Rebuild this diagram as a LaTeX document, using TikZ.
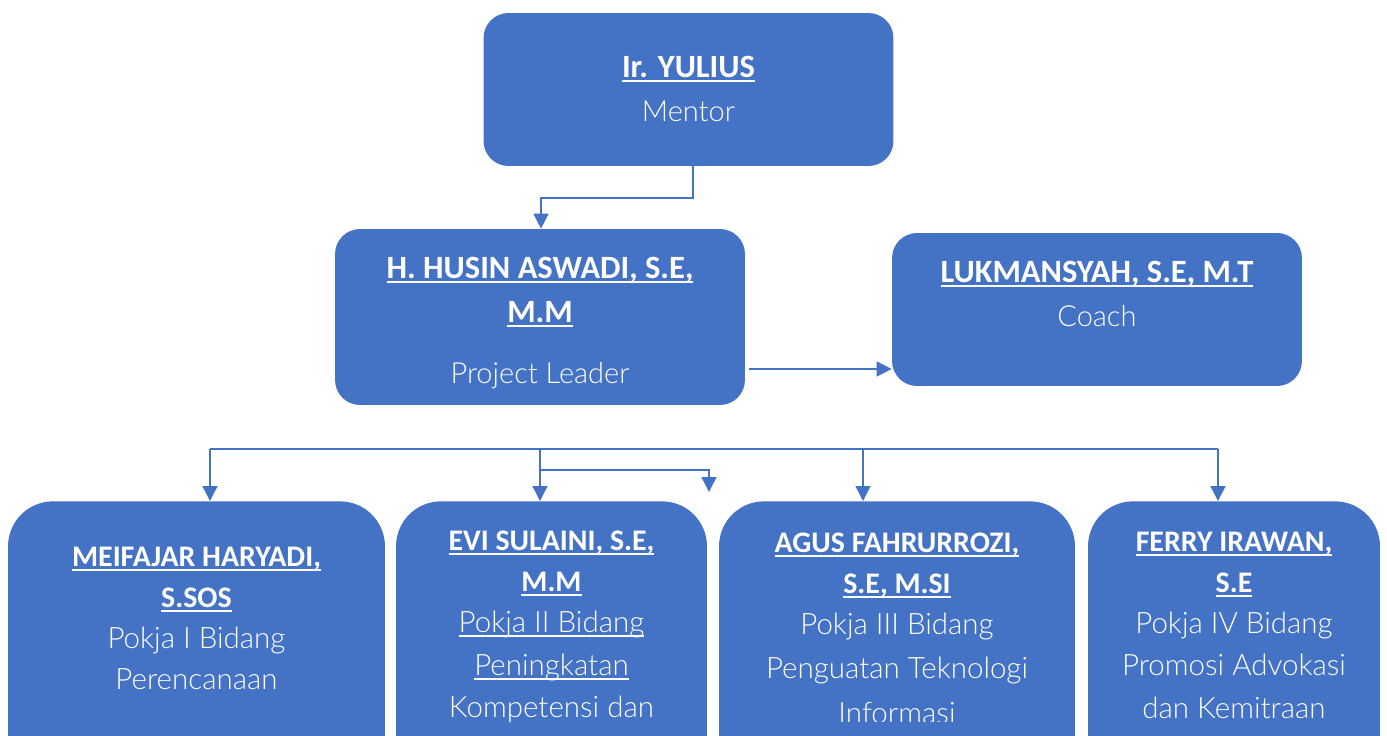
\documentclass[tikz,border=0pt]{standalone}
\usepackage{fontspec}
\setmainfont{Carlito}
\newfontfamily\rolefont{Lato}[UprightFont=* Light]
\usetikzlibrary{arrows.meta, positioning}
\definecolor{officeblue}{HTML}{4472C4}
\newcommand{\toprole}{\fontsize{16.5}{25}\selectfont\mdseries\rolefont}
\newcommand{\lowrole}{\fontsize{16.8}{23.3}\selectfont\mdseries\rolefont}
\newsavebox{\ulnbox}
\newcommand{\uln}[1]{\sbox{\ulnbox}{#1}\rlap{\usebox{\ulnbox}}\rule[-2.6pt]{\wd\ulnbox}{1.1pt}}

\begin{document}
\begin{tikzpicture}[x=0.02cm, y=-0.02cm]

    % Define styles
    \tikzstyle{topbox} = [fill=officeblue, rounded corners=0.5cm, minimum width=8.2cm, minimum height=3.06cm, inner sep=0pt]
    \tikzstyle{lowbox} = [fill=officeblue, rounded corners=0.9cm, minimum height=5.6cm, anchor=north, inner sep=0pt]
    \tikzstyle{toptext} = [text=white, align=center, inner sep=0pt, anchor=north, font=\fontsize{18.5}{25}\selectfont\bfseries]
    \tikzstyle{lowtext} = [text=white, align=center, inner sep=0pt, anchor=north, font=\fontsize{17}{23.3}\selectfont\bfseries]
    \tikzstyle{link} = [draw=officeblue, line width=0.8pt, -{Triangle[width=0.3cm, length=0.3cm]}]

    \useasboundingbox (0,0) rectangle (1387,736);

    % Define key points
    \coordinate (elbowA) at (693,198);
    \coordinate (elbowB) at (541,198);
    \coordinate (side) at (749,369);
    \coordinate (bus1) at (210,449);
    \coordinate (bus2) at (540,449);
    \coordinate (bus3) at (863,449);
    \coordinate (bus4) at (1218,449);
    \coordinate (fork) at (540,470);
    \coordinate (forkend) at (709,470);
    \coordinate (forktip) at (709,492);

    % Upper boxes
    \node[topbox] (mentor) at (688.5,89.5) {};
    \node[topbox, minimum height=3.52cm] (leader) at (540,317) {};
    \node[topbox] (coach) at (1097,309.5) {};

    \node[toptext, below=0.87cm of mentor.north] (mentortxt) {\uln{Ir. YULIUS}\\ \toprole Mentor};
    \node[toptext, below=0.57cm of leader.north] (leadertxt) {\uln{H. HUSIN ASWADI, S.E,}\\ \uln{M.M}\\[0.34cm] \toprole Project Leader};
    \node[toptext, below=0.57cm of coach.north] (coachtxt) {\uln{LUKMANSYAH, S.E, M.T}\\ \toprole Coach};

    % Pokja boxes
    \node[lowbox, minimum width=7.54cm] (pokja1) at (196.5,501) {};
    \node[lowbox, minimum width=6.22cm] (pokja2) at (551.5,501) {};
    \node[lowbox, minimum width=7.12cm] (pokja3) at (897,501) {};
    \node[lowbox, minimum width=5.84cm] (pokja4) at (1234,501) {};

    \node[lowtext, below=0.91cm of pokja1.north] (pokja1txt) {\uln{MEIFAJAR HARYADI,}\\ \uln{S.SOS}\\ \lowrole Pokja I Bidang\\ \lowrole Perencanaan};
    \node[lowtext, below=0.59cm of pokja2.north] (pokja2txt) {\uln{EVI SULAINI, S.E,}\\ \uln{M.M}\\ \lowrole\uln{Pokja II Bidang}\\[1pt] \lowrole\uln{Peningkatan}\\[1pt] \lowrole Kompetensi dan};
    \begin{scope}
        \clip (719,501) rectangle (1075,721);
        \node[lowtext, below=0.63cm of pokja3.north] (pokja3txt) {\uln{AGUS FAHRURROZI,}\\ \uln{S.E, M.SI}\\ \lowrole Pokja III Bidang\\[2pt] \lowrole Penguatan Teknologi\\[2pt] \lowrole Informasi};
    \end{scope}
    \node[lowtext, below=0.61cm of pokja4.north] (pokja4txt) {\uln{FERRY IRAWAN,}\\ \uln{S.E}\\ \lowrole Pokja IV Bidang\\[1pt] \lowrole Promosi Advokasi\\[1pt] \lowrole dan Kemitraan};

    % Mentor to project leader
    \draw[link] (mentor.south -| elbowA) -- (elbowA) -- (elbowB) -- (elbowB |- leader.north);

    % Project leader to coach
    \draw[link] (side) -- (side -| coach.west);

    % Bus to the pokja boxes
    \draw[officeblue, line width=0.8pt] (bus1) -- (bus4);
    \draw[link] (bus1) -- (bus1 |- pokja1.north);
    \draw[link] (bus2) -- (bus2 |- pokja2.north);
    \draw[link] (bus3) -- (bus3 |- pokja3.north);
    \draw[link] (bus4) -- (bus4 |- pokja4.north);
    \draw[link] (fork) -- (forkend) -- (forktip);

\end{tikzpicture}
\end{document}
